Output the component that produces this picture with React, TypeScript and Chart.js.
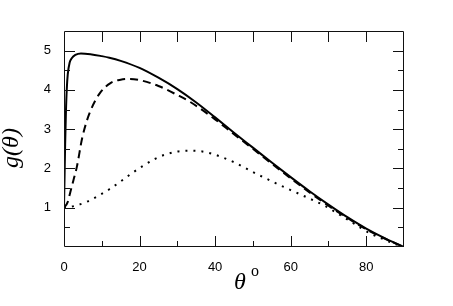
import React, { useEffect, useRef } from "react";
import { Chart, registerables } from "chart.js";

Chart.register(...registerables);

const solidTheta = [0, 0.15, 0.3, 0.5, 0.75, 1, 1.5, 2, 3, 4.5, 7, 10, 12, 15, 20, 25, 30, 35, 40, 45, 50, 55, 60, 65, 70, 75, 80, 85, 90];
const solidG = [1, 1.8, 2.6, 3.4, 4.05, 4.4, 4.7, 4.8, 4.89, 4.93, 4.91, 4.86, 4.82, 4.74, 4.56, 4.31, 4.02, 3.68, 3.3, 2.91, 2.53, 2.15, 1.78, 1.42, 1.08, 0.76, 0.47, 0.22, 0];

const dashedTheta = [0, 1, 1.6, 2.5, 3.4, 4.8, 6, 7.1, 9.5, 12.4, 15, 17.5, 20, 25, 30, 33.3, 40, 45, 50, 55, 60, 65, 70, 75, 80, 85, 90];
const dashedG = [1, 1.15, 1.37, 1.7, 2.04, 2.77, 3.2, 3.49, 3.92, 4.18, 4.26, 4.28, 4.25, 4.1, 3.87, 3.7, 3.25, 2.87, 2.5, 2.12, 1.75, 1.39, 1.05, 0.74, 0.45, 0.21, 0];

const dottedTheta = [0, 3, 6, 9, 12, 15, 18, 21, 24, 27, 30, 33, 36, 39, 42, 45, 48, 51, 54, 57, 60, 63, 66, 69, 72, 75, 78, 81, 84, 87, 90];
const dottedG = [1, 1.05, 1.15, 1.3, 1.47, 1.67, 1.88, 2.07, 2.24, 2.36, 2.43, 2.45, 2.44, 2.38, 2.28, 2.16, 2.01, 1.86, 1.72, 1.58, 1.45, 1.32, 1.19, 1.05, 0.88, 0.7, 0.52, 0.35, 0.22, 0.1, 0];

const xTickLabels = [0, 20, 40, 60, 80];
const yTickLabels = [1, 2, 3, 4, 5];

const toPoints = (xs: number[], ys: number[]) => xs.map((x, i) => ({ x, y: ys[i] }));

const framePlugin = {
  id: "frame",
  afterDraw(chart: any) {
    const { ctx, chartArea, scales } = chart;
    const { left, right, top, bottom } = chartArea;
    const xs = scales.x;
    const ys = scales.y;
    ctx.save();
    ctx.strokeStyle = "#111";
    ctx.lineWidth = 1;
    ctx.beginPath();
    ctx.rect(left + 0.5, top + 0.5, right - left - 1, bottom - top - 1);
    ctx.stroke();
    ctx.beginPath();
    for (let v = 10; v < 90; v += 10) {
      const px = Math.round(xs.getPixelForValue(v)) + 0.5;
      const major = xTickLabels.includes(v);
      const len = major ? 11 : 6;
      ctx.moveTo(px, bottom);
      ctx.lineTo(px, bottom - len);
      ctx.moveTo(px, top);
      ctx.lineTo(px, top + 11);
    }
    for (let v = 0.5; v < 5.5; v += 0.5) {
      const py = Math.round(ys.getPixelForValue(v)) + 0.5;
      const major = yTickLabels.includes(v);
      const len = major ? 11 : 6;
      ctx.moveTo(left, py);
      ctx.lineTo(left + len, py);
      ctx.moveTo(right, py);
      ctx.lineTo(right - len, py);
    }
    ctx.stroke();

    // axis titles
    ctx.fillStyle = "#000";
    ctx.save();
    ctx.translate(12, (top + bottom) / 2 + 9);
    ctx.rotate(-Math.PI / 2);
    ctx.font = 'italic 24px "Liberation Serif"';
    ctx.textAlign = "center";
    ctx.textBaseline = "middle";
    ctx.fillText("g(θ)", 0, 0);
    ctx.restore();

    ctx.font = 'italic 24px "Liberation Serif"';
    ctx.textAlign = "left";
    ctx.textBaseline = "alphabetic";
    ctx.fillText("θ", 234, 289);
    ctx.font = '16px "Liberation Serif"';
    ctx.fillText("o", 251, 276);
    ctx.restore();
  },
};

export default function App() {
  const ref = useRef<HTMLCanvasElement | null>(null);
  useEffect(() => {
    if (!ref.current) return;
    const chart = new Chart(ref.current, {
      type: "line",
      data: {
        datasets: [
          {
            data: toPoints(solidTheta, solidG),
            borderColor: "#000",
            borderWidth: 2,
            pointRadius: 0,
            cubicInterpolationMode: "monotone",
          },
          {
            data: toPoints(dashedTheta, dashedG),
            borderColor: "#000",
            borderWidth: 2,
            borderDash: [8, 5],
            pointRadius: 0,
            cubicInterpolationMode: "monotone",
          },
          {
            data: toPoints(dottedTheta, dottedG),
            borderColor: "#000",
            borderWidth: 2,
            borderDash: [2, 6],
            pointRadius: 0,
            cubicInterpolationMode: "monotone",
          },
        ],
      },
      options: {
        animation: false,
        responsive: false,
        maintainAspectRatio: false,
        layout: { padding: { top: 31, right: 49, left: 0, bottom: 0 } },
        plugins: { legend: { display: false }, tooltip: { enabled: false } },
        scales: {
          x: {
            type: "linear",
            min: 0,
            max: 90,
            grid: { display: false, drawTicks: false },
            border: { display: false },
            afterFit: (s: any) => {
              s.height = 59;
            },
            ticks: {
              stepSize: 10,
              padding: 13,
              color: "#000",
              font: { family: '"Liberation Sans"', size: 13 },
              maxRotation: 0,
              autoSkip: false,
              callback: (v: any) => (xTickLabels.includes(Number(v)) ? String(v) : ""),
            },
          },
          y: {
            type: "linear",
            min: 0,
            max: 5.5,
            grid: { display: false, drawTicks: false },
            border: { display: false },
            afterFit: (s: any) => {
              s.width = 64;
            },
            ticks: {
              stepSize: 0.5,
              padding: 13,
              color: "#000",
              font: { family: '"Liberation Sans"', size: 13 },
              autoSkip: false,
              callback: (v: any) => (yTickLabels.includes(Number(v)) ? String(v) : ""),
            },
          },
        },
      },
      plugins: [framePlugin],
    });
    return () => chart.destroy();
  }, []);
  return (
    <div style={{ position: "absolute", left: 0, top: 0, width: 453, height: 306, background: "#fff" }}>
      <canvas ref={ref} width={453} height={306} style={{ width: 453, height: 306 }} />
    </div>
  );
}
